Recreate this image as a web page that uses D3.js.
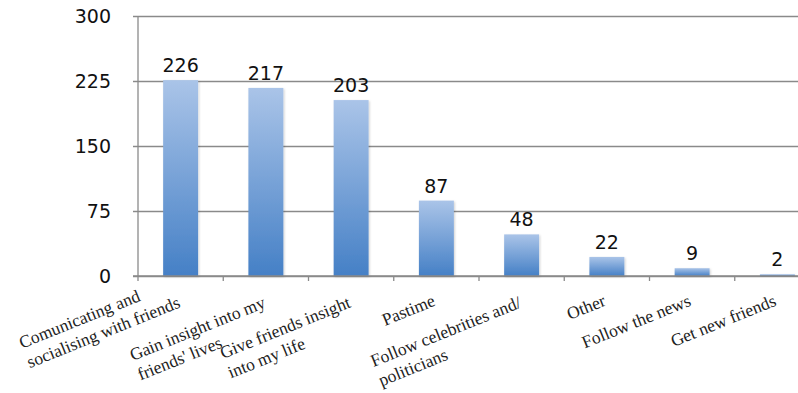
<!DOCTYPE html>
<html>
<head>
<meta charset="utf-8">
<script src="https://cdn.jsdelivr.net/npm/d3@7"></script>
<style>
  html, body { margin: 0; padding: 0; background: #fff; }
  svg { display: block; }
</style>
</head>
<body>
<svg id="chart" width="798" height="393"></svg>
<script>
// Reasons for using the social network (number of respondents)
const categoryLines = [
  ["Comunicating and", "socialising with friends"],
  ["Gain insight into my", "friends' lives"],
  ["Give friends insight", "into my life"],
  ["Pastime"],
  ["Follow celebrities and/", "politicians"],
  ["Other"],
  ["Follow the news"],
  ["Get new friends"]
];
const counts = [226, 217, 203, 87, 48, 22, 9, 2];
const yTicks = [0, 75, 150, 225, 300];

const svg = d3.select("#chart");
const plotLeft = 138, plotRight = 820, plotTop = 16, plotBottom = 276;
const gridColor = "#8a8a8a";

const x = d3.scaleBand()
  .domain(d3.range(counts.length))
  .range([plotLeft, plotRight])
  .paddingInner(0.59)
  .paddingOuter(0.295);

const y = d3.scaleLinear().domain([0, 300]).range([plotBottom, plotTop]);

// bar fill: light blue at the top fading to a deeper blue at the base
const defs = svg.append("defs");
const grad = defs.append("linearGradient")
  .attr("id", "barFill").attr("x1", 0).attr("y1", 0).attr("x2", 0).attr("y2", 1);
grad.append("stop").attr("offset", "0%").attr("stop-color", "#aac4e8");
grad.append("stop").attr("offset", "100%").attr("stop-color", "#4580c6");

const shadow = defs.append("filter").attr("id", "barShadow")
  .attr("x", "-20%").attr("y", "-20%").attr("width", "140%").attr("height", "140%");
shadow.append("feDropShadow")
  .attr("dx", 1).attr("dy", 1).attr("stdDeviation", 1.2)
  .attr("flood-color", "#000").attr("flood-opacity", 0.18);

// horizontal gridlines and y axis labels
const yAxis = d3.axisLeft(y)
  .tickValues(yTicks)
  .tickSize(-(plotRight - plotLeft))
  .tickSizeOuter(0)
  .tickPadding(27);
const yg = svg.append("g").attr("transform", `translate(${plotLeft},0)`).call(yAxis);
yg.select(".domain").remove();
yg.selectAll(".tick line")
  .attr("x1", -5)
  .attr("stroke", gridColor).attr("stroke-width", 1.3);
yg.selectAll(".tick text")
  .attr("font-family", "DejaVu Sans, Verdana, sans-serif")
  .attr("font-size", 19).attr("fill", "#111");

// vertical axis line
svg.append("line")
  .attr("x1", plotLeft).attr("x2", plotLeft).attr("y1", plotTop).attr("y2", plotBottom)
  .attr("stroke", gridColor).attr("stroke-width", 1.3);

// category tick marks at band boundaries
const boundaries = d3.range(counts.length + 1).map(i => plotLeft + i * x.step());
svg.append("g").selectAll("line").data(boundaries).join("line")
  .attr("x1", d => d).attr("x2", d => d)
  .attr("y1", plotBottom).attr("y2", plotBottom + 5)
  .attr("stroke", gridColor).attr("stroke-width", 1.3);

// bars
svg.append("g").selectAll("rect").data(counts).join("rect")
  .attr("x", (d, i) => x(i))
  .attr("y", d => y(d))
  .attr("width", x.bandwidth())
  .attr("height", d => y(0) - y(d))
  .attr("fill", "url(#barFill)")
  .attr("filter", "url(#barShadow)");

// redraw the baseline over the bars
svg.append("line")
  .attr("x1", plotLeft - 5).attr("x2", plotRight).attr("y1", plotBottom).attr("y2", plotBottom)
  .attr("stroke", gridColor).attr("stroke-width", 1.3);

// value labels above the bars
svg.append("g").selectAll("text").data(counts).join("text")
  .attr("x", (d, i) => x(i) + x.bandwidth() / 2)
  .attr("y", d => y(d) - 8)
  .attr("text-anchor", "middle")
  .attr("font-family", "DejaVu Sans, Verdana, sans-serif")
  .attr("font-size", 19).attr("fill", "#111")
  .text(d => d);

// rotated, multi-line category labels (lines left-aligned, block ending at the band centre)
const angle = -22, lineH = 21;
const labels = svg.append("g");
categoryLines.forEach((lines, i) => {
  const cx = x(i) + x.bandwidth() / 2;
  const g = labels.append("g")
    .attr("transform", `translate(${cx},${plotBottom}) rotate(${angle})`);
  const texts = lines.map(t => g.append("text")
    .attr("font-family", "Liberation Serif, Times New Roman, serif")
    .attr("font-size", 17.5).attr("fill", "#222")
    .text(t));
  const lens = texts.map(t => t.node().getComputedTextLength());
  const maxLen = d3.max(lens);
  const longest = lens.indexOf(maxLen);
  const vLongest = lines.length > 1 ? 29 : 27;
  texts.forEach((t, j) => {
    t.attr("x", -11 - maxLen).attr("y", vLongest + (j - longest) * lineH);
  });
});
</script>
</body>
</html>
